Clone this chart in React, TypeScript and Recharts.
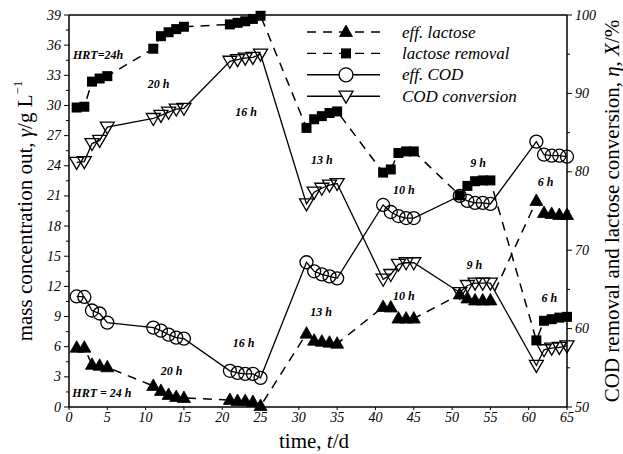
import {
  ComposedChart,
  Line,
  XAxis,
  YAxis,
  ReferenceLine,
  ReferenceDot,
  Legend,
  Label,
} from "recharts";

const FONT = "'Liberation Serif', 'Times New Roman', serif";

// sampling days (five per HRT stage)
const DAYS = [
  1, 2, 3, 4, 5, 11, 12, 13, 14, 15, 21, 22, 23, 24, 25, 31, 32, 33, 34, 35,
  41, 42, 43, 44, 45, 51, 52, 53, 54, 55, 61, 62, 63, 64, 65,
];

// left axis, g/L
const EFF_LACTOSE = [
  5.9, 5.9, 4.2, 4.1, 3.95, 2.1, 1.6, 1.2, 1.0, 0.9, 0.7, 0.6, 0.6, 0.5, 0.1,
  7.3, 6.6, 6.5, 6.4, 6.3, 9.95, 9.9, 8.8, 8.8, 8.8, 11.2, 10.8, 10.6, 10.6,
  10.6, 20.5, 19.3, 19.2, 19.1, 19.1,
];
const EFF_COD = [
  11.0, 10.95, 9.6, 9.3, 8.4, 7.9, 7.6, 7.2, 6.9, 6.8, 3.6, 3.4, 3.3, 3.3, 2.9,
  14.4, 13.5, 13.2, 13.0, 12.8, 20.1, 19.4, 19.0, 18.8, 18.8, 21.0, 20.5, 20.3,
  20.3, 20.2, 26.4, 25.1, 25.0, 25.0, 24.9,
];

// right axis, %
const LACTOSE_REMOVAL = [
  88.2, 88.3, 91.5, 91.9, 92.2, 95.7, 97.3, 97.8, 98.2, 98.5, 98.8, 99.0, 99.2,
  99.5, 99.9, 85.6, 86.7, 87.1, 87.5, 87.7, 79.9, 80.3, 82.4, 82.6, 82.6, 77.0,
  78.2, 78.8, 78.9, 78.9, 58.5, 61.0, 61.2, 61.4, 61.5,
];
const COD_CONVERSION = [
  81.2, 81.3, 83.6, 84.0, 85.7, 86.8, 87.2, 87.6, 88.0, 88.1, 94.1, 94.3, 94.5,
  94.6, 95.0, 75.9, 77.4, 77.9, 78.3, 78.5, 66.3, 66.9, 68.2, 68.4, 68.4, 64.6,
  65.5, 65.8, 65.8, 65.8, 55.3, 57.3, 57.5, 57.6, 57.8,
];

const X_TICKS = [0, 5, 10, 15, 20, 25, 30, 35, 40, 45, 50, 55, 60, 65];
const LEFT_TICKS = [
  0, 1.5, 3, 4.5, 6, 7.5, 9, 10.5, 12, 13.5, 15, 16.5, 18, 19.5, 21, 22.5, 24,
  25.5, 27, 28.5, 30, 31.5, 33, 34.5, 36, 37.5, 39,
];
const RIGHT_TICKS = [50, 55, 60, 65, 70, 75, 80, 85, 90, 95, 100];

// HRT stage notes, placed in left-axis units
const NOTES_UPPER = [
  { t: 3.8, v: 35.0, text: "HRT=24h" },
  { t: 11.7, v: 32.1, text: "20 h" },
  { t: 23.1, v: 29.3, text: "16 h" },
  { t: 33.0, v: 24.6, text: "13 h" },
  { t: 43.7, v: 21.6, text: "10 h" },
  { t: 53.4, v: 24.3, text: "9 h" },
  { t: 62.2, v: 22.4, text: "6 h" },
];
const NOTES_LOWER = [
  { t: 4.3, v: 1.4, text: "HRT = 24 h" },
  { t: 13.4, v: 3.6, text: "20 h" },
  { t: 22.8, v: 6.4, text: "16 h" },
  { t: 32.9, v: 9.5, text: "13 h" },
  { t: 43.7, v: 11.0, text: "10 h" },
  { t: 52.9, v: 14.1, text: "9 h" },
  { t: 62.7, v: 10.8, text: "6 h" },
];

const rows = DAYS.map((t, i) => ({
  t,
  effLactose: EFF_LACTOSE[i],
  lactoseRemoval: LACTOSE_REMOVAL[i],
  effCOD: EFF_COD[i],
  codConversion: COD_CONVERSION[i],
}));

const DASH = "9 7";

function UpTri({ cx, cy }: { cx: number; cy: number }) {
  return (
    <polygon
      points={`${cx - 6.5},${cy + 4.5} ${cx + 6.5},${cy + 4.5} ${cx},${cy - 7}`}
      fill="#000"
      stroke="#000"
      strokeWidth={0.8}
    />
  );
}
function DownTri({ cx, cy }: { cx: number; cy: number }) {
  return (
    <polygon
      points={`${cx - 7},${cy - 5} ${cx + 7},${cy - 5} ${cx},${cy + 7}`}
      fill="none"
      stroke="#000"
      strokeWidth={1.3}
    />
  );
}
function Square({ cx, cy }: { cx: number; cy: number }) {
  return <rect x={cx - 5} y={cy - 5} width={10} height={10} fill="#000" />;
}
function Circle({ cx, cy }: { cx: number; cy: number }) {
  return <circle cx={cx} cy={cy} r={6.5} fill="none" stroke="#000" strokeWidth={1.3} />;
}

const dotOf = (Shape: any) => (p: any) =>
  p.cx == null ? <g key={`e-${p.index}`} /> : <Shape key={`d-${p.index}`} cx={p.cx} cy={p.cy} />;

function LeftTick(p: any) {
  const v = p.payload.value;
  const ax = p.x + 7;
  const major = Math.abs(v / 3 - Math.round(v / 3)) < 1e-6;
  return (
    <g>
      <line x1={ax} x2={ax - (major ? 5 : 3)} y1={p.y} y2={p.y} stroke="#000" strokeWidth={1} />
      {major && (
        <text x={p.x - 1} y={p.y} textAnchor="end" dominantBaseline="central" fontSize={14} fontStyle="italic" fontFamily={FONT} fill="#000">
          {v}
        </text>
      )}
    </g>
  );
}
function RightTick(p: any) {
  const v = p.payload.value;
  const ax = p.x - 7;
  const major = v % 10 === 0;
  return (
    <g>
      <line x1={ax} x2={ax + (major ? 5 : 3)} y1={p.y} y2={p.y} stroke="#000" strokeWidth={1} />
      {major && (
        <text x={p.x + 1} y={p.y} textAnchor="start" dominantBaseline="central" fontSize={14} fontStyle="italic" fontFamily={FONT} fill="#000">
          {v}
        </text>
      )}
    </g>
  );
}

const legendRows = [
  { label: "eff. lactose", dashed: true, Shape: UpTri },
  { label: "lactose removal", dashed: true, Shape: Square },
  { label: "eff. COD", dashed: false, Shape: Circle },
  { label: "COD conversion", dashed: false, Shape: DownTri },
];

function LegendBox() {
  return (
    <svg width={250} height={92}>
      {legendRows.map((r, i) => {
        const y = 12 + i * 21.4;
        return (
          <g key={r.label}>
            <line x1={7} x2={80} y1={y} y2={y} stroke="#000" strokeWidth={1.4} strokeDasharray={r.dashed ? DASH : undefined} />
            {r.Shape === Circle ? (
              <circle cx={46} cy={y} r={7} fill="#fff" stroke="#000" strokeWidth={1.3} />
            ) : r.Shape === DownTri ? (
              <polygon points={`${39},${y - 5} ${53},${y - 5} ${46},${y + 7}`} fill="#fff" stroke="#000" strokeWidth={1.3} />
            ) : (
              <r.Shape cx={46} cy={y} />
            )}
            <text x={102} y={y} dominantBaseline="central" fontSize={17} fontStyle="italic" fontFamily={FONT} fill="#000">
              {r.label}
            </text>
          </g>
        );
      })}
    </svg>
  );
}

const noteShape = (text: string) => (p: any) =>
  (
    <text x={p.cx} y={p.cy} textAnchor="middle" dominantBaseline="central" fontSize={12} fontWeight="bold" fontStyle="italic" fontFamily={FONT} fill="#000">
      {text}
    </text>
  );

export default function App() {
  return (
    <div style={{ position: "absolute", left: 0, top: 0, width: 623, height: 454, background: "#fff" }}>
      <ComposedChart width={623} height={454} data={rows} margin={{ top: 15, right: 0, bottom: 0, left: 0 }}>
        <XAxis
          dataKey="t"
          type="number"
          domain={[0, 65]}
          ticks={X_TICKS}
          interval={0}
          height={47}
          tickSize={3}
          tickMargin={2}
          axisLine={{ stroke: "#000", strokeWidth: 1.5 }}
          tickLine={{ stroke: "#000" }}
          tick={{ fontSize: 14, fontStyle: "italic", fontFamily: FONT, fill: "#000" }}
        >
          <Label
            content={(props: any) => {
              const vb = props.viewBox;
              return (
                <text x={vb.x + vb.width / 2 - 4} y={vb.y + 41} textAnchor="middle" fontSize={21} fontFamily={FONT} fill="#000">
                  time, <tspan fontStyle="italic">t</tspan>/d
                </text>
              );
            }}
          />
        </XAxis>
        <YAxis
          yAxisId="left"
          domain={[0, 39]}
          ticks={LEFT_TICKS}
          interval={0}
          width={69}
          tickSize={5}
          tickMargin={2}
          tickLine={false}
          axisLine={{ stroke: "#000", strokeWidth: 1.5 }}
          tick={<LeftTick />}
        >
          <Label
            content={(props: any) => {
              const vb = props.viewBox;
              const cy = vb.y + vb.height / 2;
              return (
                <text transform={`translate(25, ${cy}) rotate(-90)`} textAnchor="middle" dominantBaseline="central" fontSize={21} fontFamily={FONT} fill="#000">
                  mass concentration out, <tspan fontStyle="italic">γ</tspan>/g L
                  <tspan fontSize={13} dy={-8}>−1</tspan>
                </text>
              );
            }}
          />
        </YAxis>
        <YAxis
          yAxisId="right"
          orientation="right"
          domain={[50, 100]}
          ticks={RIGHT_TICKS}
          interval={0}
          width={56}
          tickSize={5}
          tickMargin={2}
          tickLine={false}
          axisLine={{ stroke: "#000", strokeWidth: 1.5 }}
          tick={<RightTick />}
        >
          <Label
            content={(props: any) => {
              const vb = props.viewBox;
              const cy = vb.y + vb.height / 2;
              return (
                <text transform={`translate(612, ${cy}) rotate(-90)`} textAnchor="middle" dominantBaseline="central" fontSize={21} fontFamily={FONT} fill="#000">
                  COD removal and lactose conversion, <tspan fontStyle="italic">η</tspan>, <tspan fontStyle="italic">X</tspan>/%
                </text>
              );
            }}
          />
        </YAxis>

        <ReferenceLine yAxisId="left" y={39} stroke="#000" strokeWidth={1.5} />

        <Line
          yAxisId="left"
          dataKey="effLactose"
          type="linear"
          stroke="#000"
          strokeWidth={1.5}
          strokeDasharray={DASH}
          dot={dotOf(UpTri)}
          activeDot={false}
          legendType="none"
          isAnimationActive={false}
        />
        <Line
          yAxisId="right"
          dataKey="lactoseRemoval"
          type="linear"
          stroke="#000"
          strokeWidth={1.5}
          strokeDasharray={DASH}
          dot={dotOf(Square)}
          activeDot={false}
          legendType="none"
          isAnimationActive={false}
        />
        <Line
          yAxisId="left"
          dataKey="effCOD"
          type="linear"
          stroke="#000"
          strokeWidth={1.3}
          dot={dotOf(Circle)}
          activeDot={false}
          legendType="none"
          isAnimationActive={false}
        />
        <Line
          yAxisId="right"
          dataKey="codConversion"
          type="linear"
          stroke="#000"
          strokeWidth={1.3}
          dot={dotOf(DownTri)}
          activeDot={false}
          legendType="none"
          isAnimationActive={false}
        />

        {[...NOTES_UPPER, ...NOTES_LOWER].map((n, i) => (
          <ReferenceDot key={`n-${i}`} yAxisId="left" x={n.t} y={n.v} r={0} shape={noteShape(n.text)} />
        ))}

        <Legend
          layout="vertical"
          align="center"
          verticalAlign="middle"
          wrapperStyle={{ position: "absolute", left: 300, top: 20, width: 250, height: 92 }}
          content={() => <LegendBox />}
        />
      </ComposedChart>
    </div>
  );
}
